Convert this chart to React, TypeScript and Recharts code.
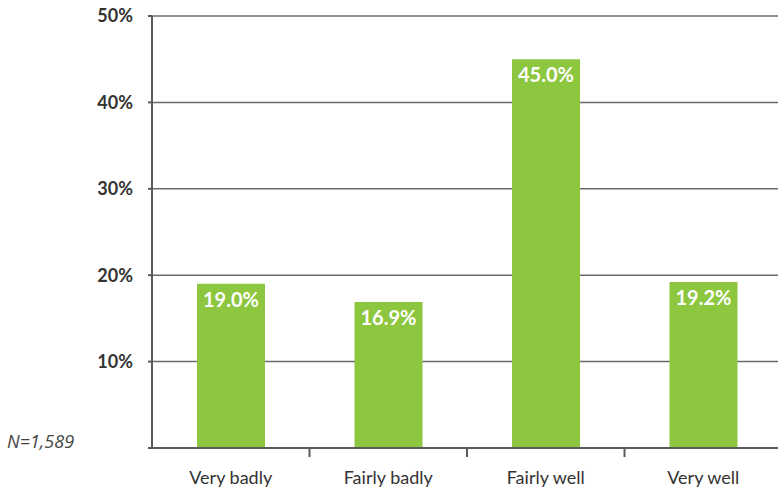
import { Bar, BarChart, CartesianGrid, LabelList, XAxis, YAxis } from "recharts";

const categories = ["Very badly", "Fairly badly", "Fairly well", "Very well"];
const shares = [19.0, 16.9, 45.0, 19.2];
const yTicks = [0, 10, 20, 30, 40, 50];
const sampleNote = "N=1,589";

const data = categories.map((category, i) => ({ category, share: shares[i] }));

const FONT = "Lato, 'Open Sans', sans-serif";
const AXIS = "#5a5a5a";
const GREEN = "#8DC63F";

// label centred under the bar, tick mark on the right-hand band edge (not after the last one)
function CategoryTick(props: any) {
  const { x, y, payload, index, visibleTicksCount } = props;
  const half = payload?.offset ?? 0;
  return (
    <g>
      {index < visibleTicksCount - 1 && (
        <line x1={x + half} x2={x + half} y1={y} y2={y + 9} stroke={AXIS} strokeWidth={2} />
      )}
      <text x={x} y={y + 36} textAnchor="middle" fill="#333" fontSize={18} fontFamily={FONT}>
        {payload.value}
      </text>
    </g>
  );
}

export default function App() {
  return (
    <div
      style={{
        position: "absolute",
        left: 0,
        top: 0,
        width: 778,
        height: 494,
        overflow: "hidden",
        background: "#fff",
        fontFamily: FONT,
      }}
    >
      <BarChart
        width={782}
        height={494}
        data={data}
        margin={{ top: 16, right: 0, bottom: 0, left: 0 }}
        barSize={68}
      >
        <CartesianGrid vertical={false} stroke="#6a6a6a" strokeWidth={1.5} />
        <XAxis
          dataKey="category"
          height={46}
          axisLine={{ stroke: AXIS, strokeWidth: 2 }}
          tickLine={false}
          tickSize={0}
          tickMargin={0}
          interval={0}
          tick={<CategoryTick />}
        />
        <YAxis
          width={152}
          domain={[0, 50]}
          ticks={yTicks}
          interval={0}
          axisLine={{ stroke: AXIS, strokeWidth: 2 }}
          tickLine={{ stroke: AXIS, strokeWidth: 2 }}
          tickSize={4}
          tickMargin={15}
          tickFormatter={(v) => (v === 0 ? "" : `${v}%`)}
          tick={{ fill: "#333", fontSize: 18, fontWeight: 700, fontFamily: FONT }}
        />
        <Bar dataKey="share" fill={GREEN} isAnimationActive={false}>
          <LabelList
            dataKey="share"
            position="insideTop"
            offset={9}
            formatter={(v: number) => `${v.toFixed(1)}%`}
            style={{ fill: "#fff", fontSize: 20, fontWeight: 700, fontFamily: FONT }}
          />
        </Bar>
      </BarChart>
      <div
        style={{
          position: "absolute",
          left: 7,
          top: 429,
          fontSize: 18,
          fontStyle: "italic",
          color: "#444",
          fontFamily: "'Open Sans', sans-serif",
        }}
      >
        {sampleNote}
      </div>
    </div>
  );
}
